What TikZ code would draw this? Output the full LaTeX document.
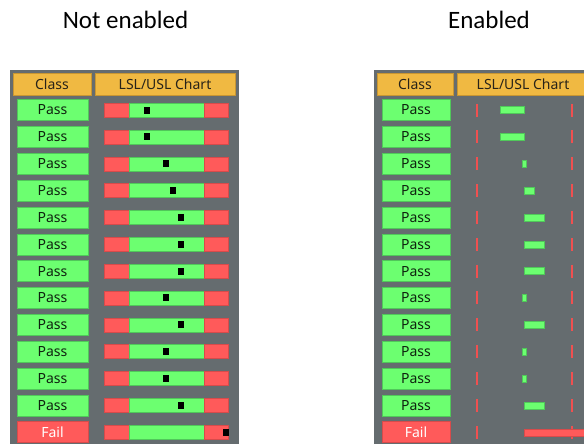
\documentclass[tikz,border=0pt]{standalone}
\usepackage{fontspec}
\setmainfont{Noto Sans}
\newfontfamily\titlefont{Carlito}
\definecolor{panel}{RGB}{101,108,111}
\definecolor{hdrgold}{RGB}{240,185,66}
\definecolor{hdredge}{RGB}{200,150,50}
\definecolor{okgreen}{RGB}{108,255,112}
\definecolor{okedge}{RGB}{80,200,90}
\definecolor{badred}{RGB}{255,90,90}
\definecolor{badedge}{RGB}{215,75,75}
\definecolor{passtext}{RGB}{15,35,15}
\definecolor{hdrtext}{RGB}{40,35,25}
\definecolor{tickred}{RGB}{240,80,80}
\tikzset{
  celltext/.style={font=\fontsize{14}{16}\selectfont, inner sep=0pt},
  hdrbox/.style={celltext, fill=hdrgold, draw=hdredge, line width=0.5pt, minimum height=22pt, text=hdrtext},
  passbox/.style={celltext, fill=okgreen, draw=okedge, line width=0.5pt, minimum height=21pt, text=passtext},
  failbox/.style={celltext, fill=badred, draw=badedge, line width=0.5pt, minimum height=21pt, text=white},
  titletext/.style={font=\titlefont\fontsize{25}{28}\selectfont, inner sep=0pt, anchor=base},
  redseg/.style={fill=badred, draw=badedge, line width=0.4pt},
  greenseg/.style={fill=okgreen, draw=okedge, line width=0.4pt},
  tickline/.style={draw=tickred, line width=1.2pt}
}
\begin{document}
\begin{tikzpicture}[x=1pt,y=-1pt]
\useasboundingbox (0,0) rectangle (584,444);
\clip (0,0) rectangle (584,444);
% titles
\node[titletext] (t1) at (125.5,28.5) {Not enabled};
\node[titletext] (t2) at (489,28.5) {Enabled};
% panels
\fill[panel] (10,70) rectangle (239,450);
\fill[panel] (374,70) rectangle (600,450);
% headers
\node[hdrbox, minimum width=78pt] (lh1) at (52,84) {Class};
\node[hdrbox, minimum width=140pt] (lh2) at (165,84) {LSL/USL Chart};
\node[hdrbox, minimum width=76pt] (rh1) at (415,84) {Class};
\node[hdrbox, minimum width=132pt] (rh2) at (523,84) {LSL/USL Chart};
% rows
\foreach \m/\a/\b [count=\i from 0] in {147/500/524,147/500/524,166/522/526,173/524/534,181/524/544,181/524/544,181/524/544,166/522/526,181/524/544,166/522/526,166/522/526,181/524/544}{
  \pgfmathsetmacro{\yc}{110+26.85*\i}
  \node[passbox, minimum width=71pt] (lp\i) at (52.5,\yc) {Pass};
  \node[passbox, minimum width=68pt] (rp\i) at (416,\yc) {Pass};
  \draw[redseg] (104,\yc-7) rectangle (129,\yc+7);
  \draw[greenseg] (129,\yc-7) rectangle (204,\yc+7);
  \draw[redseg] (204,\yc-7) rectangle (228,\yc+7);
  \fill[black] (\m-3,\yc-3.5) rectangle (\m+3,\yc+3.5);
  \draw[tickline] (477,\yc-6.5) -- (477,\yc+6.5);
  \draw[tickline] (572,\yc-6.5) -- (572,\yc+6.5);
  \draw[greenseg] (\a,\yc-3.5) rectangle (\b,\yc+3.5);
}
% fail row
\pgfmathsetmacro{\yc}{110+26.85*12}
\node[failbox, minimum width=71pt] (lf) at (52.5,\yc) {Fail};
\node[failbox, minimum width=68pt] (rf) at (416,\yc) {Fail};
\draw[redseg] (104,\yc-7) rectangle (129,\yc+7);
\draw[greenseg] (129,\yc-7) rectangle (204,\yc+7);
\draw[redseg] (204,\yc-7) rectangle (228,\yc+7);
\fill[black] (223,\yc-3.5) rectangle (229,\yc+3.5);
\draw[tickline] (477,\yc-6.5) -- (477,\yc+6.5);
\draw[tickline] (572,\yc-6.5) -- (572,\yc+6.5);
\draw[redseg] (524,\yc-3.5) rectangle (600,\yc+3.5);
\end{tikzpicture}
\end{document}
